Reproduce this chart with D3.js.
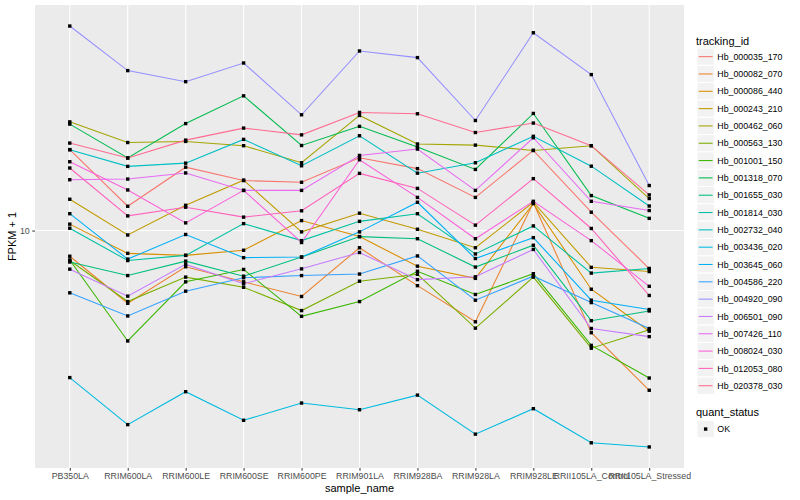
<!DOCTYPE html>
<html><head><meta charset="utf-8">
<script src="https://cdn.jsdelivr.net/npm/d3@7"></script>
<style>body{margin:0;background:#fff}svg{display:block}text{font-family:"Liberation Sans",Arial,Helvetica,sans-serif}</style>
</head><body>
<svg id="chart" width="800" height="500"></svg>
<script>
const sampleNames = ["PB350LA","RRIM600LA","RRIM600LE","RRIM600SE","RRIM600PE","RRIM901LA","RRIM928BA","RRIM928LA","RRIM928LE","RRII105LA_Control","RRII105LA_Stressed"];
const trackingIds = ["Hb_000035_170","Hb_000082_070","Hb_000086_440","Hb_000243_210","Hb_000462_060","Hb_000563_130","Hb_001001_150","Hb_001318_070","Hb_001655_030","Hb_001814_030","Hb_002732_040","Hb_003436_020","Hb_003645_060","Hb_004586_220","Hb_004920_090","Hb_006501_090","Hb_007426_110","Hb_008024_030","Hb_012053_080","Hb_020378_030"];
const yTicks = [10];

// FPKM + 1 values, one array per tracking_id, in sampleNames order
const Hb_000035_170 = [13.65,10.98,12.76,12.12,12.04,13.23,12.69,11.36,13.61,10.73,8.64];
const Hb_000082_070 = [9.06,7.56,8.70,8.21,7.76,9.36,8.09,7.04,11.13,6.75,5.41];
const Hb_000086_440 = [10.25,9.16,9.09,9.27,10.39,9.77,8.72,8.32,11.09,7.98,6.79];
const Hb_000243_210 = [11.28,9.83,11.02,12.14,9.95,10.69,10.05,9.36,11.15,8.68,8.54];
const Hb_000462_060 = [15.19,14.03,14.09,13.86,12.98,15.57,13.95,13.89,13.61,13.86,11.31];
const Hb_000563_130 = [8.91,7.61,8.36,8.04,7.35,8.23,8.45,6.87,8.36,6.36,6.83];
const Hb_001001_150 = [8.93,6.54,8.21,8.61,7.19,7.61,8.55,7.82,8.47,6.43,5.67];
const Hb_001318_070 = [15.06,13.22,15.09,16.79,13.87,14.93,13.79,12.65,15.69,11.44,10.48];
const Hb_001655_030 = [8.86,8.41,8.89,8.39,9.03,9.77,9.69,8.69,9.45,7.07,7.34];
const Hb_001814_030 = [10.09,8.91,9.09,10.27,9.62,10.36,10.67,9.14,10.18,8.49,8.64];
const Hb_002732_040 = [13.65,12.80,12.96,14.20,12.83,14.40,12.47,12.98,14.37,12.81,10.99];
const Hb_003436_020 = [5.68,4.74,5.38,4.82,5.15,5.02,5.31,4.57,5.04,4.42,4.35];
const Hb_003645_060 = [10.67,8.96,9.85,9.01,9.03,9.95,11.15,8.98,9.73,7.65,7.38];
const Hb_004586_220 = [7.87,7.20,7.92,8.34,8.41,8.46,9.07,7.65,8.39,7.58,6.86];
const Hb_004920_090 = [21.96,18.50,17.73,19.05,15.61,19.95,19.45,15.27,21.40,18.22,11.89];
const Hb_006501_090 = [8.62,7.77,8.78,8.15,8.63,9.19,8.28,8.37,9.30,6.86,6.65];
const Hb_007426_110 = [12.16,12.19,12.48,11.67,11.67,13.35,13.68,11.67,14.29,11.19,10.80];
const Hb_008024_030 = [13.03,11.69,10.30,11.67,9.55,13.13,11.36,9.69,11.19,9.62,8.07];
const Hb_012053_080 = [12.72,10.58,10.94,10.53,10.79,12.46,11.76,10.21,12.21,10.08,7.79];
const Hb_020378_030 = [14.00,13.22,14.16,14.83,14.45,15.75,15.67,14.58,15.12,13.86,11.47];
const quantStatus = ["OK"];

const seriesValues = [Hb_000035_170,Hb_000082_070,Hb_000086_440,Hb_000243_210,Hb_000462_060,Hb_000563_130,Hb_001001_150,Hb_001318_070,Hb_001655_030,Hb_001814_030,Hb_002732_040,Hb_003436_020,Hb_003645_060,Hb_004586_220,Hb_004920_090,Hb_006501_090,Hb_007426_110,Hb_008024_030,Hb_012053_080,Hb_020378_030];

const palette = ["#F8766D","#EA8331","#D89000","#C09B00","#A3A500","#7CAE00","#39B600","#00BB4E","#00BF7D","#00C1A3","#00BFC4","#00BAE0","#00B0F6","#35A2FF","#9590FF","#C77CFF","#E76BF3","#FA62DB","#FF62BC","#FF6C91"];

const series = trackingIds.map((id, i) => ({id, values: seriesValues[i].map((v, j) => ({name: sampleNames[j], v}))}));

const panel = {left: 35, right: 684, top: 5, bottom: 468};
const svg = d3.select("#chart");

const x = d3.scalePoint().domain(sampleNames).range([panel.left, panel.right]).padding(0.6);
const all = seriesValues.flat();
const lmin = Math.log10(d3.min(all)), lmax = Math.log10(d3.max(all));
const ex = (lmax - lmin) * 0.05;
const y = d3.scaleLog().domain([Math.pow(10, lmin - ex), Math.pow(10, lmax + ex)]).range([panel.bottom, panel.top]);
const color = d3.scaleOrdinal().domain(trackingIds).range(palette);

// panel
svg.append("rect").attr("x", panel.left).attr("y", panel.top)
  .attr("width", panel.right - panel.left).attr("height", panel.bottom - panel.top).attr("fill", "#EBEBEB");

// grid
const grid = svg.append("g");
grid.selectAll("line.h").data(yTicks).join("line")
  .attr("x1", panel.left).attr("x2", panel.right).attr("y1", d => y(d)).attr("y2", d => y(d))
  .attr("stroke", "#fff").attr("stroke-width", 1.07);
grid.selectAll("line.v").data(sampleNames).join("line")
  .attr("x1", d => x(d)).attr("x2", d => x(d)).attr("y1", panel.top).attr("y2", panel.bottom)
  .attr("stroke", "#fff").attr("stroke-width", 1.07);

// lines
const line = d3.line().x(d => x(d.name)).y(d => y(d.v));
svg.append("g").selectAll("path").data(series).join("path")
  .attr("d", d => line(d.values)).attr("fill", "none")
  .attr("stroke", d => color(d.id)).attr("stroke-width", 1.07);

// points
const pts = series.flatMap(s => s.values);
const ps = 3.4;
svg.append("g").selectAll("rect").data(pts).join("rect")
  .attr("x", d => x(d.name) - ps/2).attr("y", d => y(d.v) - ps/2)
  .attr("width", ps).attr("height", ps).attr("fill", "#000");

// axes
const xAxis = d3.axisBottom(x).tickSize(2.75).tickPadding(2.5);
const gx = svg.append("g").attr("transform", `translate(0,${panel.bottom})`).call(xAxis);
gx.select(".domain").remove();
gx.selectAll(".tick line").attr("stroke", "#333");
gx.selectAll(".tick text").attr("fill", "#4D4D4D").style("font-size", "8.8px").style("font-family", '"Liberation Sans",Arial,sans-serif');

const yAxis = d3.axisLeft(y).tickValues(yTicks).tickFormat(d3.format("d")).tickSize(2.75).tickPadding(2.5);
const gy = svg.append("g").attr("transform", `translate(${panel.left},0)`).call(yAxis);
gy.select(".domain").remove();
gy.selectAll(".tick line").attr("stroke", "#333");
gy.selectAll(".tick text").attr("fill", "#4D4D4D").style("font-size", "8.8px").style("font-family", '"Liberation Sans",Arial,sans-serif');

// axis titles
svg.append("text").attr("x", (panel.left + panel.right) / 2).attr("y", 492)
  .attr("text-anchor", "middle").style("font-size", "11px").attr("fill", "#000").text("sample_name");
svg.append("text").attr("transform", `translate(16,${(panel.top + panel.bottom) / 2}) rotate(-90)`)
  .attr("text-anchor", "middle").style("font-size", "11px").attr("fill", "#000").text("FPKM + 1");

// legend: tracking_id
const lg = svg.append("g");
const keyX = 697, keyW = 17.3, keyStep = 17.32, firstKey = 48;
lg.append("text").attr("x", 696).attr("y", 44.5).style("font-size", "11px").text("tracking_id");
const items = lg.selectAll("g.item").data(trackingIds).join("g")
  .attr("transform", (d, i) => `translate(${keyX},${firstKey + i * keyStep})`);
items.append("rect").attr("width", keyW).attr("height", keyW).attr("fill", "#F2F2F2").attr("stroke", "#fff").attr("stroke-width", 1);
items.append("line").attr("x1", 1.7).attr("x2", keyW - 1.7).attr("y1", keyW / 2).attr("y2", keyW / 2)
  .attr("stroke", d => color(d)).attr("stroke-width", 1.07);
items.append("text").attr("x", keyW + 3).attr("y", keyW / 2 + 3.1).style("font-size", "8.8px").attr("fill", "#000").text(d => d);

// legend: quant_status
lg.append("text").attr("x", 696).attr("y", 416.3).style("font-size", "11px").text("quant_status");
const qi = lg.selectAll("g.q").data(quantStatus).join("g").attr("transform", (d, i) => `translate(${keyX},${420.4 + i * keyStep})`);
qi.append("rect").attr("width", keyW).attr("height", keyW).attr("fill", "#F2F2F2").attr("stroke", "#fff");
qi.append("rect").attr("x", keyW / 2 - ps / 2).attr("y", keyW / 2 - ps / 2).attr("width", ps).attr("height", ps).attr("fill", "#000");
qi.append("text").attr("x", keyW + 3).attr("y", keyW / 2 + 3.1).style("font-size", "8.8px").attr("fill", "#000").text(d => d);
</script>
</body></html>
